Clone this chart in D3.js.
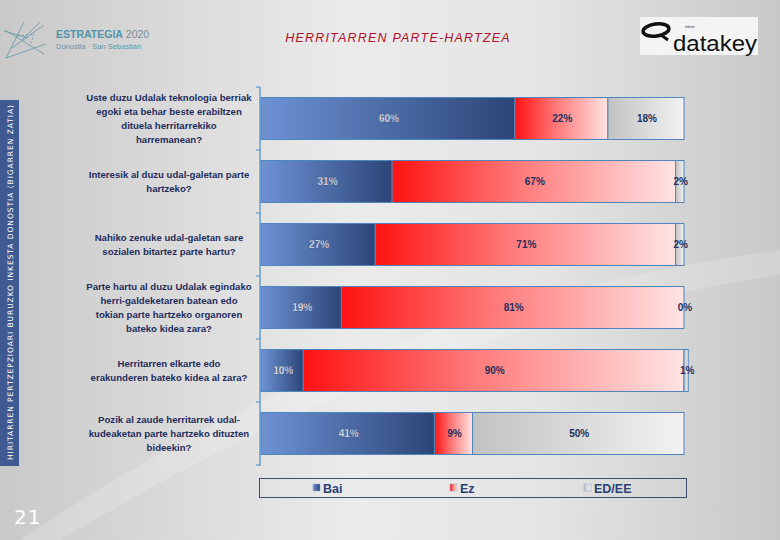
<!DOCTYPE html>
<html><head><meta charset="utf-8">
<script src="https://cdn.jsdelivr.net/npm/d3@7"></script>
<style>body{margin:0;padding:0;overflow:hidden;}svg{display:block;}</style>
</head><body>
<svg id="c" width="780" height="540"></svg>
<script>
const categories = [
  ["Uste duzu Udalak teknologia berriak","egoki eta behar beste erabiltzen","dituela herritarrekiko","harremanean?"],
  ["Interesik al duzu udal-galetan parte","hartzeko?"],
  ["Nahiko zenuke udal-galetan sare","sozialen bitartez parte hartu?"],
  ["Parte hartu al duzu Udalak egindako","herri-galdeketaren batean edo","tokian parte hartzeko organoren","bateko kidea zara?"],
  ["Herritarren elkarte edo","erakunderen bateko kidea al zara?"],
  ["Pozik al zaude herritarrek udal-","kudeaketan parte hartzeko dituzten","bideekin?"]
];
const seriesNames = ["Bai","Ez","ED/EE"];
const bai  = [60,31,27,19,10,41];
const ez   = [22,67,71,81,90,9];
const edee = [18,2,2,0,1,50];
const title = "HERRITARREN PARTE-HARTZEA";
const sideText = "HIRITARREN PERTZEPZIOARI BURUZKO INKESTA DONOSTIA (BIGARREN ZATIA)";
const pageNo = "21";

const svg = d3.select("#c");
const defs = svg.append("defs");
function grad(id, stops, x2="100%", y2="0%"){
  const g = defs.append("linearGradient").attr("id", id).attr("x1","0%").attr("y1","0%").attr("x2",x2).attr("y2",y2);
  stops.forEach(s=>g.append("stop").attr("offset",s[0]).attr("stop-color",s[1]));
}
grad("bg", [["0%","#c9c9c9"],["45%","#ebebeb"],["70%","#e4e4e4"],["100%","#c8c8c8"]]);
grad("gBai", [["0%","#6d92d4"],["100%","#2c4578"]]);
grad("gEz", [["0%","#ff1212"],["45%","#ff7a7a"],["100%","#ffe4e4"]]);
grad("gEd", [["0%","#c2c2c2"],["100%","#f2f2f2"]]);
const fills = ["url(#gBai)","url(#gEz)","url(#gEd)"];

// background
svg.append("rect").attr("width",780).attr("height",540).attr("fill","url(#bg)");
svg.append("path").attr("d","M20,540 C200,420 420,300 780,250 L780,275 C430,330 230,440 60,540 Z")
  .attr("fill","#ffffff").attr("opacity",0.18);

// left strip
svg.append("rect").attr("x",0).attr("y",100).attr("width",19).attr("height",366).attr("fill","#3f5a91");
svg.append("text").attr("transform","translate(13,460) rotate(-90)")
  .attr("font-family","DejaVu Sans, sans-serif").attr("font-size",7.5).attr("fill","#ffffff")
  .attr("textLength",355).attr("lengthAdjust","spacing").text(sideText);

svg.append("text").attr("x",14).attr("y",524).attr("font-family","DejaVu Sans, sans-serif")
  .attr("font-size",20).attr("fill","#ffffff").attr("letter-spacing",1).text(pageNo);

// top-left logo
const lg = svg.append("g").attr("stroke","#5f97a6").attr("fill","none").attr("stroke-width",0.8);
lg.append("path").attr("d","M6,58 L24,22 M5,30 L44,54 M12,48 L44,25 M6,58 L46,44 M22,40 L40,22 M4,31 L28,38");
lg.append("path").attr("d","M18,36 L34,34 L30,46").attr("stroke-dasharray","2,2");
const logoT = svg.append("text").attr("x",56).attr("y",38).attr("font-family","Liberation Sans, Arial, sans-serif")
  .attr("font-size",10.5);
logoT.append("tspan").attr("font-weight","bold").attr("fill","#4f94a8").text("ESTRATEGIA");
logoT.append("tspan").attr("fill","#7a8e96").text(" 2020");
svg.append("text").attr("x",56).attr("y",49).attr("font-family","Liberation Sans, Arial, sans-serif")
  .attr("font-size",7.5).attr("fill","#5f97a6").text("Donostia · San Sebastián");

// top-right logo
svg.append("rect").attr("x",640).attr("y",17).attr("width",118).attr("height",38).attr("fill","#f4f4f4");
svg.append("ellipse").attr("cx",656).attr("cy",30).attr("rx",13).attr("ry",6).attr("fill","none")
  .attr("stroke","#111").attr("stroke-width",3.5).attr("transform","rotate(-8,656,30)");
svg.append("path").attr("d","M661,35 L668,40").attr("stroke","#111").attr("stroke-width",3);
svg.append("text").attr("x",673).attr("y",51).attr("font-family","Liberation Sans, Arial, sans-serif")
  .attr("font-size",22).attr("fill","#111")
  .attr("textLength",84).attr("lengthAdjust","spacingAndGlyphs").text("datakey");
svg.append("text").attr("x",685).attr("y",28).attr("font-family","Liberation Sans, Arial, sans-serif")
  .attr("font-size",3.5).attr("fill","#333").text("inform");

// title
svg.append("text").attr("x",398).attr("y",42).attr("text-anchor","middle")
  .attr("font-family","Liberation Sans, Arial, sans-serif").attr("font-style","italic")
  .attr("font-size",12.5).attr("letter-spacing",1.2).attr("fill","#b0102a").text(title);

// scales
const idx = d3.range(categories.length);
const y = d3.scaleBand().domain(idx).range([87,465]).paddingInner(0.333).paddingOuter(0.1667);
const x = d3.scaleLinear().domain([0,100]).range([261,684]);

const rows = idx.map(i=>({i, Bai:bai[i], Ez:ez[i], "ED/EE":edee[i]}));
const stack = d3.stack().keys(seriesNames)(rows);

// axis line and ticks
const axisG = svg.append("g");
axisG.append("line").attr("x1",260).attr("x2",260).attr("y1",87).attr("y2",466).attr("stroke","#4a8cc4").attr("stroke-width",1.2);
const tickYs = idx.map(i=>y(i) - y.step()*y.paddingOuter()).concat([465]);
axisG.selectAll("line.t").data(tickYs).enter().append("line").attr("class","t")
  .attr("x1",256).attr("x2",260).attr("y1",d=>d).attr("y2",d=>d).attr("stroke","#4a8cc4");

// bars
stack.forEach((layer,k)=>{
  const g = svg.append("g");
  g.selectAll("rect").data(layer).enter().append("rect")
    .attr("x",d=>x(d[0])).attr("y",d=>y(d.data.i))
    .attr("width",d=>Math.max(0,x(d[1])-x(d[0]))).attr("height",y.bandwidth())
    .attr("fill",fills[k]).attr("stroke","#4f86bd").attr("stroke-width",1);
  g.selectAll("text").data(layer).enter().append("text")
    .attr("x",d=>(x(d[0])+x(d[1]))/2 + 1).attr("y",d=>y(d.data.i)+y.bandwidth()/2+3.5)
    .attr("text-anchor","middle").attr("font-family","Liberation Sans, Arial, sans-serif")
    .attr("font-weight","bold").attr("font-size",10)
    .attr("fill", k===0 ? "#ffffff" : "#22305c")
    .attr("stroke", k===0 ? "#27406f" : "none").attr("stroke-width",0.3)
    .text(d=>(d[1]-d[0])+"%");
});

// category labels
const lab = svg.append("g").attr("font-family","Liberation Sans, Arial, sans-serif")
  .attr("font-weight","bold").attr("font-size",9.6).attr("fill","#1f2d5c").attr("text-anchor","middle");
categories.forEach((lines,i)=>{
  const cy = y(i)+y.bandwidth()/2;
  const lh = 13.8;
  const t0 = cy - (lines.length-1)*lh/2 + 3.5;
  lines.forEach((l,j)=>{
    lab.append("text").attr("x",169).attr("y",t0+j*lh).text(l);
  });
});

// legend
svg.append("rect").attr("x",259.5).attr("y",478.5).attr("width",427).attr("height",19)
  .attr("fill","none").attr("stroke","#3e4d6e").attr("stroke-width",1);
const legX = [313,450,584];
const lgd = svg.append("g");
seriesNames.forEach((s,k)=>{
  lgd.append("rect").attr("x",legX[k]).attr("y",484).attr("width",7).attr("height",7)
    .attr("fill",fills[k]).attr("stroke","#8ea4c8").attr("stroke-width",0.5);
  lgd.append("text").attr("x",legX[k]+10).attr("y",492.5).attr("font-family","Liberation Sans, Arial, sans-serif")
    .attr("font-weight","bold").attr("font-size",12.5).attr("fill","#2a3f75").text(s);
});
</script>
</body></html>
